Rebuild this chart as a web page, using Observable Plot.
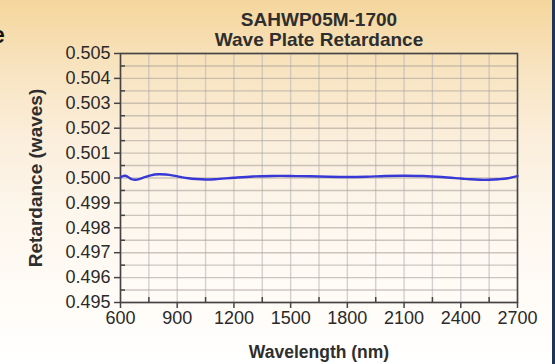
<!DOCTYPE html>
<html><head><meta charset="utf-8">
<script src="https://cdn.jsdelivr.net/npm/d3@7"></script>
<script src="https://cdn.jsdelivr.net/npm/@observablehq/plot@0.6"></script>
<style>
html,body{margin:0;padding:0;background:#fff;}
#wrap{position:relative;width:555px;height:364px;overflow:hidden;
  background:linear-gradient(to bottom,#f5d69c 0%,#f8e3bf 18%,#fbeedb 38%,#fdf6ec 58%,#fffbf6 80%,#ffffff 100%);}
#edge{position:absolute;right:0;top:0;width:3px;height:364px;background:#1f3557;}
#crop{position:absolute;left:-8px;top:22px;font:bold 23px "Liberation Sans",Arial,sans-serif;color:#111;}
#wrap svg{position:absolute;left:0;top:0;}
</style></head>
<body><div id="wrap"><div id="crop">e</div><div id="edge"></div></div>
<script>
const titleLines = ["SAHWP05M-1700", "Wave Plate Retardance"];
const xLabel = "Wavelength (nm)";
const yLabel = "Retardance (waves)";
const xTicks = [600, 900, 1200, 1500, 1800, 2100, 2400, 2700];
const xMinor = [750, 1050, 1350, 1650, 1950, 2250, 2550];
const yTicks = [0.495, 0.496, 0.497, 0.498, 0.499, 0.500, 0.501, 0.502, 0.503, 0.504, 0.505];
const yMinor = [0.4955, 0.4965, 0.4975, 0.4985, 0.4995, 0.5005, 0.5015, 0.5025, 0.5035, 0.5045];
const wavelength = [600, 610, 625, 640, 660, 680, 700, 730, 760, 800, 840, 880, 920, 960, 1000, 1050, 1100, 1200, 1300, 1400, 1500, 1600, 1700, 1800, 1900, 2000, 2100, 2200, 2300, 2400, 2450, 2500, 2550, 2600, 2650, 2700];
const retardance = [0.50002, 0.50007, 0.50009, 0.50004, 0.49995, 0.49993, 0.49996, 0.50004, 0.50011, 0.50015, 0.50014, 0.50010, 0.50004, 0.49999, 0.49996, 0.49994, 0.49995, 0.50001, 0.50006, 0.50008, 0.50008, 0.50007, 0.50005, 0.50004, 0.50005, 0.50008, 0.50009, 0.50008, 0.50004, 0.49998, 0.49995, 0.49993, 0.49993, 0.49995, 0.49999, 0.50008];

const data = wavelength.map((w, i) => ({w, r: retardance[i]}));
const xGrid = [...xTicks, ...xMinor];
const yGrid = [...yTicks, ...yMinor];
const font = "'Liberation Sans', Arial, sans-serif";

const plot = Plot.plot({
  width: 555, height: 364,
  marginLeft: 120, marginRight: 38, marginTop: 53, marginBottom: 62,
  style: {background: "transparent", fontFamily: font, fontSize: "18px", color: "#333", overflow: "visible"},
  x: {domain: [600, 2700]},
  y: {domain: [0.495, 0.505]},
  marks: [
    Plot.gridX(xGrid, {stroke: "#b5b5b5", strokeOpacity: 0.6, strokeWidth: 1.4}),
    Plot.gridY(yGrid, {stroke: "#aaa49a", strokeOpacity: 0.6, strokeWidth: 1.4}),
    Plot.frame({stroke: "#444", strokeWidth: 1.6}),
    Plot.axisX(xTicks, {tickSize: 6, tickPadding: 3, tickFormat: d => String(d), label: null, stroke: "#444", strokeWidth: 1.5, fill: "#2a2a2a", fontSize: 18}),
    Plot.axisX(xMinor, {tickSize: -5, text: null, label: null, stroke: "#444", strokeWidth: 1.5}),
    Plot.axisY(yTicks, {tickSize: 6, tickPadding: 4, tickFormat: d3.format(".3f"), label: null, stroke: "#444", strokeWidth: 1.5, fill: "#2a2a2a", fontSize: 18}),
    Plot.axisY(yMinor, {tickSize: -5, text: null, label: null, stroke: "#444", strokeWidth: 1.5}),
    Plot.line(data, {x: "w", y: "r", stroke: "#3838d6", strokeWidth: 2.3, curve: "catmull-rom"}),
    Plot.text([titleLines[0]], {frameAnchor: "top", lineAnchor: "bottom", dy: -28, fontSize: 19, fontWeight: "bold", fontFamily: font, fill: "#2e2e2e"}),
    Plot.text([titleLines[1]], {frameAnchor: "top", lineAnchor: "bottom", dy: -8, fontSize: 19, fontWeight: "bold", fontFamily: font, fill: "#2e2e2e"}),
    Plot.text([xLabel], {frameAnchor: "bottom", lineAnchor: "bottom", dy: 55, fontSize: 17.5, fontWeight: "bold", fontFamily: font, fill: "#2e2e2e"}),
    Plot.text([yLabel], {frameAnchor: "left", textAnchor: "middle", lineAnchor: "bottom", rotate: -90, dx: -79, fontSize: 19, fontWeight: "bold", fontFamily: font, fill: "#2e2e2e"})
  ]
});
document.getElementById("wrap").appendChild(plot);
</script>
</body></html>
